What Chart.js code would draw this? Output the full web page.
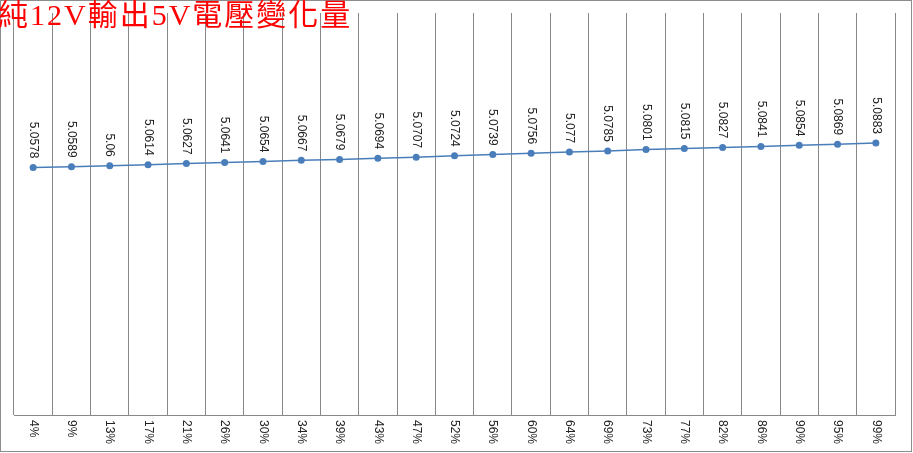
<!DOCTYPE html>
<html>
<head>
<meta charset="utf-8">
<script src="https://cdn.jsdelivr.net/npm/chart.js@4/dist/chart.umd.min.js"></script>
<style>
    html, body {
        margin: 0;
        padding: 0;
        background: #fff;
        overflow: hidden;
    }
    #wrap {
        position: relative;
        width: 913px;
        height: 453px;
    }
    #title {
        position: absolute;
        left: -2px;
        top: -3px;
        font-family: "Liberation Serif", "Noto Sans CJK TC", serif;
        font-size: 30px;
        line-height: 36px;
        letter-spacing: 2px;
        color: #ff0000;
        white-space: nowrap;
    }
</style>
</head>
<body>
<div id="wrap">
    <canvas id="chart"></canvas>
    <div id="title">純12V輸出5V電壓變化量</div>
</div>
<script>
let labels = ["4%", "9%", "13%", "17%", "21%", "26%", "30%", "34%", "39%", "43%", "47%", "52%",
    "56%", "60%", "64%", "69%", "73%", "77%", "82%", "86%", "90%", "95%", "99%"];
let voltage = [5.0578, 5.0589, 5.06, 5.0614, 5.0627, 5.0641, 5.0654, 5.0667, 5.0679, 5.0694, 5.0707, 5.0724,
    5.0739, 5.0756, 5.077, 5.0785, 5.0801, 5.0815, 5.0827, 5.0841, 5.0854, 5.0869, 5.0883];
let yMin = 4.75;
let yMax = 5.25;

// labels rotated clockwise, above each point and under the axis
let rotatedLabels = {
    id: "rotatedLabels",
    afterDatasetsDraw(chart) {
        let ctx = chart.ctx;
        let meta = chart.getDatasetMeta(0);
        let xScale = chart.scales.x;

        ctx.save();
        ctx.fillStyle = "#222";
        ctx.font = "12px 'Liberation Sans', Arial, sans-serif";
        ctx.textBaseline = "middle";

        meta.data.forEach((point, i) => {
            ctx.save();
            ctx.translate(point.x, point.y - 9);
            ctx.rotate(Math.PI / 2);
            ctx.textAlign = "right";
            ctx.fillText(String(voltage[i]), 0, 0);
            ctx.restore();
        });

        labels.forEach((label, i) => {
            ctx.save();
            ctx.translate(xScale.getPixelForValue(i), chart.chartArea.bottom + 5);
            ctx.rotate(Math.PI / 2);
            ctx.textAlign = "left";
            ctx.fillText(label, 0, 0);
            ctx.restore();
        });

        // outer frame
        ctx.strokeStyle = "#8c8c8c";
        ctx.lineWidth = 1;
        ctx.strokeRect(0.5, 0.5, chart.width - 2, chart.height - 2);
        ctx.restore();
    },
};

document.addEventListener("DOMContentLoaded", function () {
    new Chart(document.getElementById("chart"), {
        type: "line",
        data: {
            labels: labels,
            datasets: [
                {
                    label: "5V",
                    data: voltage,
                    borderColor: "#4a7ebb",
                    backgroundColor: "#4a7ebb",
                    borderWidth: 1.5,
                    pointRadius: 3.5,
                    pointBorderWidth: 0,
                    fill: false,
                    tension: 0,
                },
            ],
        },
        options: {
            responsive: true,
            maintainAspectRatio: false,
            animation: false,
            layout: {
                padding: { left: 14, right: 18, top: 13, bottom: 38 },
            },
            plugins: {
                legend: { display: false },
                tooltip: { enabled: false },
            },
            scales: {
                x: {
                    offset: true,
                    grid: {
                        offset: true,
                        color: "#888",
                        lineWidth: 1,
                        drawTicks: false,
                    },
                    border: { color: "#888", width: 1 },
                    ticks: { display: false },
                },
                y: {
                    display: false,
                    min: yMin,
                    max: yMax,
                },
            },
        },
        plugins: [rotatedLabels],
    });
});
</script>
</body>
</html>
